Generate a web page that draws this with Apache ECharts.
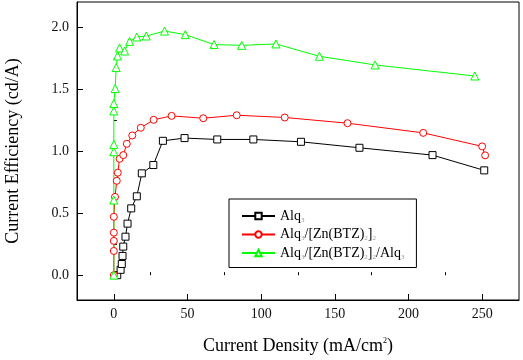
<!DOCTYPE html>
<html><head><meta charset="utf-8">
<script src="https://cdn.jsdelivr.net/npm/echarts@6/dist/echarts.min.js"></script>
<style>html,body{margin:0;padding:0;background:#fff}#c{width:523px;height:360px}</style>
</head><body><div id="c"></div>
<script>
var seriesNames = ['Alq{s|3}', 'Alq{s|3}/[Zn(BTZ){s|2}]{s|2}', 'Alq{s|3}/[Zn(BTZ){s|2}]{s|2}/Alq{s|3}'];
var alq3 = [[2.3,0],[4.6,0.043],[5.4,0.09],[5.9,0.155],[6.4,0.23],[7.9,0.31],[9.3,0.415],[11.8,0.538],[15.6,0.635],[19,0.82],[26.8,0.887],[33.3,1.082],[48,1.104],[70.2,1.093],[94.7,1.093],[127,1.074],[166.7,1.026],[216.3,0.967],[251.4,0.844]];
var alq3Zn = [[0,0],[0,0.195],[0,0.276],[0,0.342],[0,0.47],[0.8,0.63],[2.0,0.76],[2.7,0.825],[3.9,0.937],[6.4,0.967],[8.8,1.058],[12.5,1.125],[18.3,1.187],[27,1.251],[39.2,1.283],[60.7,1.264],[83.4,1.288],[116,1.27],[158.6,1.224],[210,1.146],[250,1.037],[252,0.965]];
var alq3ZnAlq3 = [[0,0],[0,0.605],[0,0.994],[0,1.053],[0,1.323],[0,1.383],[0.9,1.503],[1.6,1.672],[2.5,1.765],[3.9,1.83],[7.3,1.805],[10.7,1.883],[15.6,1.918],[22,1.926],[34.4,1.966],[48.5,1.937],[68,1.857],[86.8,1.851],[110,1.862],[139.5,1.763],[177.3,1.693],[245,1.604]];
var xMajor = [0,50,100,150,200,250];
var xMinor = [25,75,125,175,225];
var yMajor = [0,0.5,1.0,1.5,2.0];
var yMinor = [0.25,0.75,1.25,1.75];

var font = '"Liberation Serif","Times New Roman",serif';
var chart = echarts.init(document.getElementById('c'));
function mk(name, data, color, symbol, size) {
  return {
    name: name, type: 'line', data: data, symbol: symbol, symbolSize: size,
    xAxisIndex: 0, yAxisIndex: 0,
    lineStyle: {color: color, width: 1},
    itemStyle: {color: '#fff', borderColor: color, borderWidth: 1},
    animation: false
  };
}
chart.setOption({
  animation: false,
  grid: {left: 77, right: 4, top: 2, bottom: 60, containLabel: false, outerBoundsMode: 'none',
    show: true, borderColor: '#000', borderWidth: 1, backgroundColor: 'transparent'},
  xAxis: [{
    type: 'value', min: -25, max: 275, position: 'bottom',
    name: 'Current Density (mA/cm{sup|2})', nameLocation: 'middle', nameGap: 37,
    nameTextStyle: {fontFamily: font, fontSize: 18, color: '#000', rich: {sup: {fontSize: 8, fontFamily: font, verticalAlign: 'top', padding: [0,0,10,0]}}},
    axisLine: {show: true, onZero: false, lineStyle: {color: '#000', width: 1}},
    axisTick: {show: true, inside: true, length: 6, customValues: xMajor, lineStyle: {color: '#000'}},
    axisLabel: {customValues: xMajor, margin: 7, fontFamily: font, fontSize: 14, color: '#111'},
    splitLine: {show: false}
  }, {
    type: 'value', min: -25, max: 275, position: 'bottom',
    axisLine: {show: false},
    axisTick: {show: true, inside: true, length: 3, customValues: xMinor, lineStyle: {color: '#000'}},
    axisLabel: {show: false},
    splitLine: {show: false}
  }],
  yAxis: [{
    type: 'value', min: -0.2, max: 2.2, position: 'left',
    name: 'Current Efficiency (cd/A)', nameLocation: 'middle', nameGap: 55,
    nameTextStyle: {fontFamily: font, fontSize: 18, color: '#000'},
    axisLine: {show: true, onZero: false, lineStyle: {color: '#000', width: 1}},
    axisTick: {show: true, inside: true, length: 6, customValues: yMajor, lineStyle: {color: '#000'}},
    axisLabel: {customValues: yMajor, margin: 8, fontFamily: font, fontSize: 14, color: '#111', formatter: function(v){return v.toFixed(1);}},
    splitLine: {show: false}
  }, {
    type: 'value', min: -0.2, max: 2.2, position: 'left',
    axisLine: {show: false},
    axisTick: {show: true, inside: true, length: 3, customValues: yMinor, lineStyle: {color: '#000'}},
    axisLabel: {show: false},
    splitLine: {show: false}
  }],
  legend: {
    left: 229, top: 199, orient: 'vertical',
    padding: [10, 12, 7, 12], itemGap: 4, itemWidth: 33, itemHeight: 8,
    borderColor: '#000', borderWidth: 1, backgroundColor: '#fff',
    data: seriesNames,
    textStyle: {fontFamily: font, fontSize: 14, color: '#000',
      rich: {s: {fontSize: 7, color: '#999', fontFamily: font, padding: [8,0,0,0]}}}
  },
  series: [
    mk(seriesNames[0], alq3, '#000000', 'rect', 7),
    mk(seriesNames[1], alq3Zn, '#ff0000', 'circle', 7),
    mk(seriesNames[2], alq3ZnAlq3, '#00ff00', 'triangle', 8)
  ]
});
</script></body></html>
